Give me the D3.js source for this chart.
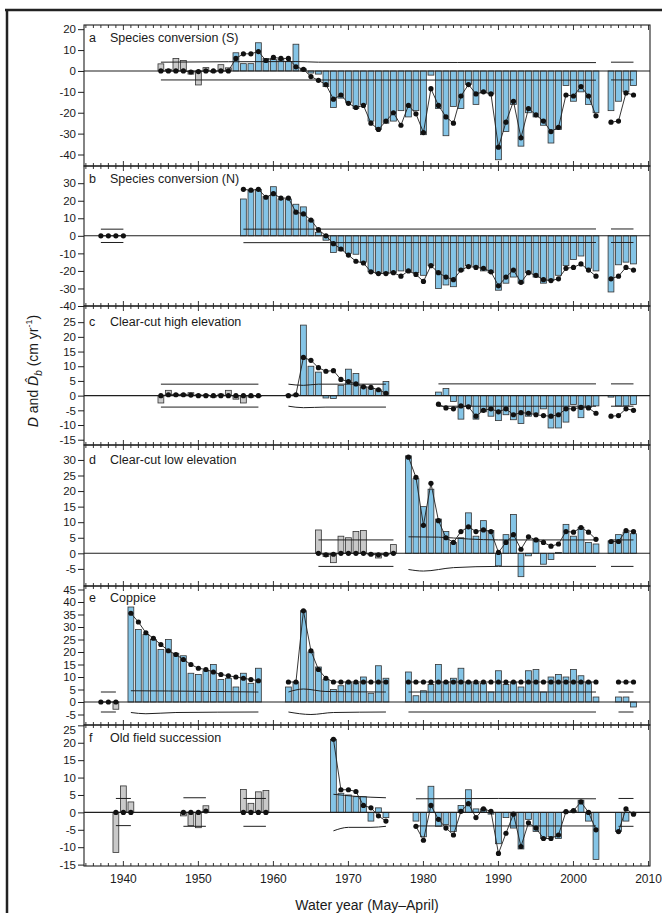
<!DOCTYPE html>
<html><head><meta charset="utf-8">
<script src="https://cdn.jsdelivr.net/npm/d3@7"></script>
<style>
body{margin:0;background:#fff;}
text{font-family:"Liberation Sans",Arial,Helvetica,sans-serif;fill:#1a1a1a;}
</style>
</head><body>
<svg id="chart" width="662" height="913"></svg>
<script>
// ---------------- DATA ----------------
const panelLetters = ["a","b","c","d","e","f"];
const panelTitles = ["Species conversion (S)","Species conversion (N)","Clear-cut high elevation","Clear-cut low elevation","Coppice","Old field succession"];
const xTickLabels = [1940,1950,1960,1970,1980,1990,2000,2010];
const yTicksA = [20,10,0,-10,-20,-30,-40];
const yTicksB = [30,20,10,0,-10,-20,-30,-40];
const yTicksC = [25,20,15,10,5,0,-5,-10,-15];
const yTicksD = [30,25,20,15,10,5,0,-5];
const yTicksE = [45,40,35,30,25,20,15,10,5,0,-5];
const yTicksF = [25,20,15,10,5,0,-5,-10,-15];

// Panel a
const yearsA = [1945,1946,1947,1948,1949,1950,1951,1952,1953,1954,1955,1956,1957,1958,1959,1960,1961,1962,1963,1964,1965,1966,1967,1968,1969,1970,1971,1972,1973,1974,1975,1976,1977,1978,1979,1980,1981,1982,1983,1984,1985,1986,1987,1988,1989,1990,1991,1992,1993,1994,1995,1996,1997,1998,1999,2000,2001,2002,2003,2005,2006,2007,2008];
const barA = [3.4,0.8,6,5,-1.5,-6.7,1.6,-0.5,3,1.5,8.7,3.5,3.5,13.5,6,5.5,5.5,4.5,12.8,1,-1,-1.5,-7.5,-17.5,-13,-15,-18,-16,-24,-28,-25,-24,-19,-22,-19,-30.5,-2,-18,-31,-17,-18,-6.5,-16,-10.5,-11,-42.5,-29,-16,-36,-20,-22,-26,-34.5,-28,-7,-14.5,-10,-16,-20,-19,-14.5,-10,-7];
const dotA = [0,0,0,0,-0.5,-0.3,0,0,0,0,6,8.2,8.2,9.3,5,6.5,6,6,2,0.8,-2.7,-4.5,-6.5,-13.5,-11.5,-15.5,-17.5,-16.5,-25,-28,-24,-20,-26,-16.5,-20.5,-29.5,-8.5,-16.5,-22,-25,-12,-6.5,-11,-10,-11,-36.5,-24.5,-14.5,-32,-18,-21,-24,-29,-27,-11.5,-12,-7.5,-12,-21.5,-24.5,-24,-10.5,-11.5];
const greyA = [1945,1946,1947,1948,1949,1950,1951,1952,1953,1954];
const thrA = [
  {up:[[1945,4.2],[1963,4.5],[1966,4.2],[2003,4.0]], lo:[[1945,-4.3],[2003,-4.4]]},
  {up:[[2005,4.2],[2008,4.2]], lo:[[2005,-4.3],[2008,-4.3]]}
];

// Panel b
const yearsB = [1937,1938,1939,1940,1956,1957,1958,1959,1960,1961,1962,1963,1964,1965,1966,1967,1968,1969,1970,1971,1972,1973,1974,1975,1976,1977,1978,1979,1980,1981,1982,1983,1984,1985,1986,1987,1988,1989,1990,1991,1992,1993,1994,1995,1996,1997,1998,1999,2000,2001,2002,2003,2005,2006,2007,2008];
const barB = [null,null,null,null,21,26,26.5,22.5,28,21,21,18,16.5,9,2,-2.5,-9.5,-8.5,-10,-10.5,-15,-20.5,-21.5,-21,-21,-20,-20.5,-21,-22.5,-17,-30,-28,-29,-20,-17,-17.5,-20,-21,-31,-27,-23.5,-27,-21,-23.5,-27,-25.5,-22.5,-17,-13.5,-11.5,-18.5,-20,-32,-16.5,-15,-16];
const dotB = [0,0,0,0,26.5,26,26.5,22,24,21.5,21.5,13.5,12.5,9,3.5,0,-4.5,-7.5,-11,-14.5,-15.5,-20.5,-21.5,-21.5,-21,-23,-20,-22,-26,-17,-21,-23.5,-25,-19.5,-17.5,-18,-18.5,-20.5,-28.5,-23.5,-19.5,-26.5,-21,-22.5,-25,-25.5,-24.5,-18.5,-18,-16,-19.5,-23,-24.5,-23,-18,-19.5];
const greyB = [];
const thrB = [
  {up:[[1937,3.8],[1940,3.8]], lo:[[1937,-3.8],[1940,-3.8]]},
  {up:[[1956,3.8],[2003,3.9]], lo:[[1956,-3.9],[2003,-3.8]]},
  {up:[[2005,3.9],[2008,3.9]], lo:[[2005,-3.8],[2008,-3.8]]}
];

// Panel c
const yearsC = [1945,1946,1947,1948,1949,1950,1951,1952,1953,1954,1955,1956,1957,1958,1962,1963,1964,1965,1966,1967,1968,1969,1970,1971,1972,1973,1974,1975,1982,1983,1984,1985,1986,1987,1988,1989,1990,1991,1992,1993,1994,1995,1996,1997,1998,1999,2000,2001,2002,2003,2005,2006,2007,2008];
const barC = [-2.5,1.8,0.5,0.5,1,0.3,0.3,-0.5,0.5,1.8,-1.2,-2.5,-0.5,-0.3,0.2,0.5,24,10,8,-0.8,-1,3.5,9,7.5,3,2.5,2,4.8,1.2,2.4,-2,-8,-3.5,-8,-5.5,-7,-8.5,-6.5,-8.2,-9.5,-7,-6,-4.5,-11,-11,-9,-3,-7.5,-4,-3.5,-0.5,-3.5,-3.5,-3];
const dotC = [0,0.3,0.3,0.3,0.2,0,0,0,0,0,0,0,0,0,0,0.3,13,12,9.5,8.3,8.5,5.5,4.8,4,3,2.8,2,0.8,-2.9,-4.2,-4.5,-3.5,-3.8,-7,-5,-4.5,-5.5,-4.5,-6.5,-5.8,-6,-6.5,-6.8,-7,-6.5,-4.5,-4.5,-4,-4.2,-6,-7,-6.8,-4.5,-5];
const greyC = [1945,1946,1947,1948,1949,1950,1951,1952,1953,1954,1955,1956,1957,1958];
const thrC = [
  {up:[[1945,3.9],[1958,3.9]], lo:[[1945,-3.9],[1958,-3.9]]},
  {up:[[1962,3.9],[1964,3.5],[1966,3.9],[1975,3.9]], lo:[[1962,-3.6],[1964,-4.1],[1967,-3.9],[1975,-3.9]]},
  {up:[[1982,4.0],[2003,4.0]], lo:[[1982,-3.6],[2003,-3.6]]},
  {up:[[2005,4.0],[2008,4.0]], lo:[[2005,-3.6],[2008,-3.6]]}
];

// Panel d
const yearsD = [1966,1967,1968,1969,1970,1971,1972,1973,1974,1975,1976,1978,1979,1980,1981,1982,1983,1984,1985,1986,1987,1988,1989,1990,1991,1992,1993,1994,1995,1996,1997,1998,1999,2000,2001,2002,2003,2005,2006,2007,2008];
const barD = [7.5,-1,-3,5.5,5,7,7.3,-0.5,-1.5,-0.5,2.8,31.3,24,15,20.6,11,7,3.5,5,13,5.5,10.5,7.3,-4,6,12.5,-7.5,-0.8,4.5,-3.5,-2,0.3,9.3,5.5,8.3,3.5,3,4,6,6.8,6.3];
const dotD = [0,-0.5,-0.3,0,0,0,0,-0.3,-0.5,-0.3,0,30.9,24.4,9,22.5,10.5,5,3.5,7,8.5,7,7.5,7,0.3,3.5,6,1.3,5.3,4.3,3.5,2.3,3,7,6.8,8.3,6.8,4.5,3.8,3.8,7.3,7];
const greyD = [1966,1967,1968,1969,1970,1971,1972,1973,1974,1975,1976];
const thrD = [
  {up:[[1966,4.3],[1976,4.3]], lo:[[1966,-4.2],[1976,-4.2]]},
  {up:[[1978,5.3],[1982,5.2],[1986,4.6],[1990,4.3],[2003,4.3]], lo:[[1978,-5.2],[1980,-5.7],[1984,-4.6],[1990,-4.2],[2003,-4.2]]},
  {up:[[2005,4.3],[2008,4.3]], lo:[[2005,-4.2],[2008,-4.2]]}
];

// Panel e
const yearsE = [1937,1938,1939,1941,1942,1943,1944,1945,1946,1947,1948,1949,1950,1951,1952,1953,1954,1955,1956,1957,1958,1962,1963,1964,1965,1966,1967,1968,1969,1970,1971,1972,1973,1974,1975,1978,1979,1980,1981,1982,1983,1984,1985,1986,1987,1988,1989,1990,1991,1992,1993,1994,1995,1996,1997,1998,1999,2000,2001,2002,2003,2006,2007,2008];
const barE = [null,null,-2.9,38,29,27,25,21,25,19.5,18.5,11.5,11,12.5,15,9,9.5,6,11.5,7.5,13.5,6,8,36.5,20,14,9,5,6.5,8,7.5,10,3.5,14.5,9.5,12,2.5,4.5,7,15,8,9.5,13.5,8,7.5,7.5,4,12.5,7,8,6,12.5,13,4,10,11,10,13,10.5,8,2,2,2,-2];
const dotE = [0,0,0,35.5,32,27.7,25.5,23,20.5,19,17,15,13.5,13,12,11,10.5,10,9.5,9,8.5,8,8,36.5,20.5,13,9.5,8,8,8,8,8,8,8,8,8,8,8,8,8,8,8,8,8,8,8,8,8,8,8,8,8,8,8,8,8,8,8,8,8,8,8,8,8];
const greyE = [1937,1938,1939];
const thrE = [
  {up:[[1937,4],[1939,4]], lo:[[1937,-4],[1939,-4]]},
  {up:[[1941,4.5],[1946,4.4],[1958,4]], lo:[[1941,-4.2],[1943,-4.7],[1947,-4.2],[1958,-4]]},
  {up:[[1962,4],[1964,5.2],[1967,4.2],[1975,4]], lo:[[1962,-4],[1965,-5],[1968,-4.2],[1975,-4]]},
  {up:[[1978,4],[2003,4]], lo:[[1978,-4],[2003,-4]]},
  {up:[[2006,4],[2008,4]], lo:[[2006,-4],[2008,-4]]}
];

// Panel f
const yearsF = [1939,1940,1941,1948,1949,1950,1951,1956,1957,1958,1959,1968,1969,1970,1971,1972,1973,1974,1975,1979,1980,1981,1982,1983,1984,1985,1986,1987,1988,1989,1990,1991,1992,1993,1994,1995,1996,1997,1998,1999,2000,2001,2002,2003,2006,2007,2008];
const barF = [-11.5,7.6,3,-1,-3.8,-4.4,1.9,6.6,2.6,5.9,6.3,21,5.5,5,4.5,4.5,-2.5,1.3,-1.5,-2.5,-7,7.5,-4,-3.5,-5.5,2,6.5,1,1,-0.5,-9,-1.5,-4.5,-10.5,-2,-5.5,-7.5,-7,-7.5,0.2,0.5,3.5,-2.5,-13.5,-5.5,-2.5,0];
const dotF = [0,0,0,0,0,0,0.4,0,0,0,0,21,6.5,6.5,6,2,1.3,-1,-2.5,-4,-8,2,-2,-4.5,-6.5,0.3,2.5,-1.5,1,0.3,-11.8,-6,-0.5,-9.8,-3,-4.5,-7.5,-7.5,-6.5,0.2,0.5,3,0,-5,-5.5,1,-0.5];
const greyF = [1939,1940,1941,1948,1949,1950,1951,1956,1957,1958,1959];
const thrF = [
  {up:[[1939,4],[1941,4]], lo:[[1939,-3.8],[1941,-3.8]]},
  {up:[[1948,4.2],[1951,4.2]], lo:[[1948,-4],[1951,-4]]},
  {up:[[1956,4],[1959,4]], lo:[[1956,-4],[1959,-4]]},
  {up:[[1968,5.2],[1971,4.6],[1975,4.2]], lo:[[1968,-5.3],[1970,-4.3],[1973,-4.3],[1975,-4.0]]},
  {up:[[1979,3.9],[1990,4.0],[2003,3.9]], lo:[[1979,-3.9],[2003,-3.9]]},
  {up:[[2006,4],[2008,4]], lo:[[2006,-4],[2008,-4]]}
];

// ---------------- LAYOUT ----------------
const panels = [
  {years:yearsA, bar:barA, dot:dotA, grey:greyA, thr:thrA, ticks:yTicksA, dom:[-45.5,22],   top:25,  bot:166, tdy:16.5},
  {years:yearsB, bar:barB, dot:dotB, grey:greyB, thr:thrB, ticks:yTicksB, dom:[-40,39.8],   top:166, bot:306, tdy:17},
  {years:yearsC, bar:barC, dot:dotC, grey:greyC, thr:thrC, ticks:yTicksC, dom:[-16.8,30.5], top:306, bot:445, tdy:19.5},
  {years:yearsD, bar:barD, dot:dotD, grey:greyD, thr:thrD, ticks:yTicksD, dom:[-10.5,34.8], top:445, bot:586, tdy:19},
  {years:yearsE, bar:barE, dot:dotE, grey:greyE, thr:thrE, ticks:yTicksE, dom:[-9.2,46.4],  top:586, bot:725, tdy:15.5},
  {years:yearsF, bar:barF, dot:dotF, grey:greyF, thr:thrF, ticks:yTicksF, dom:[-15.4,25.1], top:725, bot:866, tdy:17}
];
const BLUE = "#84c4e6", GREY = "#c9c9c9", INK = "#1f1f1f";

const svg = d3.select("#chart");
const x = d3.scaleLinear().domain([1934.75, 2010.2]).range([84, 650]);
const barW = 5.8;

// outer frame
svg.append("line").attr("x1",5).attr("x2",662).attr("y1",10).attr("y2",10).attr("stroke","#222").attr("stroke-width",2.5);
svg.append("line").attr("x1",7).attr("x2",7).attr("y1",9).attr("y2",913).attr("stroke","#222").attr("stroke-width",2.5);

function segments(years){
  const out=[]; let cur=[];
  years.forEach((yr,i)=>{ if(i>0 && yr-years[i-1]>1){out.push(cur);cur=[];} cur.push(i); });
  out.push(cur); return out;
}

panels.forEach((p,pi)=>{
  const y = d3.scaleLinear().domain(p.dom).range([p.bot, p.top]);
  const g = svg.append("g");
  const greySet = new Set(p.grey);

  // bars
  const bd = p.years.map((yr,i)=>({yr, v:p.bar[i]})).filter(d=>d.v!==null);
  g.selectAll("rect.bar").data(bd).join("rect")
    .attr("x", d=>x(d.yr)-barW/2)
    .attr("y", d=>Math.min(y(d.v), y(0)))
    .attr("width", barW)
    .attr("height", d=>Math.max(0.6, Math.abs(y(d.v)-y(0))))
    .attr("fill", d=>greySet.has(d.yr)?GREY:BLUE)
    .attr("stroke", "#333").attr("stroke-width", 0.8);

  // zero line
  g.append("line").attr("x1",84).attr("x2",650).attr("y1",y(0)).attr("y2",y(0)).attr("stroke",INK).attr("stroke-width",1.1);

  // threshold lines
  const tl = d3.line().x(d=>x(d[0])).y(d=>y(d[1])).curve(d3.curveMonotoneX);
  p.thr.forEach(s=>{
    g.append("path").attr("d",tl(s.up)).attr("fill","none").attr("stroke",INK).attr("stroke-width",1);
    g.append("path").attr("d",tl(s.lo)).attr("fill","none").attr("stroke",INK).attr("stroke-width",1);
  });

  // dot lines + dots
  const dl = d3.line().x(i=>x(p.years[i])).y(i=>y(p.dot[i]));
  segments(p.years).forEach(seg=>{
    g.append("path").attr("d",dl(seg)).attr("fill","none").attr("stroke",INK).attr("stroke-width",0.9);
  });
  g.selectAll("circle.dot").data(p.years.map((yr,i)=>({yr,v:p.dot[i]}))).join("circle")
    .attr("cx",d=>x(d.yr)).attr("cy",d=>y(d.v)).attr("r",2.6).attr("fill","#111");

  // frame
  g.append("rect").attr("x",84).attr("y",p.top).attr("width",650-84).attr("height",p.bot-p.top)
    .attr("fill","none").attr("stroke",INK).attr("stroke-width",1.1);

  // year ticks on top and bottom, inward
  const yrs = d3.range(1935, 2011);
  yrs.forEach(yr=>{
    const L = (yr%10===0)?5:3;
    g.append("line").attr("x1",x(yr)).attr("x2",x(yr)).attr("y1",p.top).attr("y2",p.top+L).attr("stroke",INK).attr("stroke-width",0.9);
    g.append("line").attr("x1",x(yr)).attr("x2",x(yr)).attr("y1",p.bot).attr("y2",p.bot-L).attr("stroke",INK).attr("stroke-width",0.9);
  });

  // y axis
  const ax = d3.axisLeft(y).tickValues(p.ticks).tickSize(6).tickPadding(2).tickFormat(d=>String(d));
  const ag = g.append("g").attr("transform","translate(84,0)").call(ax);
  ag.select(".domain").remove();
  ag.selectAll(".tick line").attr("stroke",INK);
  ag.selectAll(".tick text").attr("font-size",11.5).attr("font-family","'Liberation Sans',Arial,sans-serif").attr("fill","#1a1a1a");
  // nudge the label that sits on the e/f boundary so it clears the "-5" above it
  if (pi===5) ag.selectAll(".tick text").filter(d=>d===25).attr("dy","0.75em");

  // title
  g.append("text").attr("x",89).attr("y",p.top+p.tdy).attr("font-size",12.5).text(panelLetters[pi]);
  g.append("text").attr("x",110).attr("y",p.top+p.tdy).attr("font-size",12.5).text(panelTitles[pi]);
});

// x axis labels
svg.selectAll("text.xl").data(xTickLabels).join("text")
  .attr("x",d=>x(d)).attr("y",883).attr("text-anchor","middle").attr("font-size",12).text(d=>d);

// x title
svg.append("text").attr("x",367).attr("y",910).attr("text-anchor","middle").attr("font-size",14).text("Water year (May\u2013April)");

// y title
const yt = svg.append("text").attr("transform","translate(38,371) rotate(-90)").attr("text-anchor","middle").attr("font-size",14);
yt.append("tspan").attr("font-style","italic").text("D");
yt.append("tspan").text(" and  ");
yt.append("tspan").attr("font-style","italic").text("D\u0302");
yt.append("tspan").attr("font-style","italic").attr("font-size",10).attr("dy",4).text("b");
yt.append("tspan").attr("dy",-4).text(" (cm yr");
yt.append("tspan").attr("font-size",9).attr("dy",-6).text("-1");
yt.append("tspan").attr("dy",6).text(")");
</script>
</body></html>
